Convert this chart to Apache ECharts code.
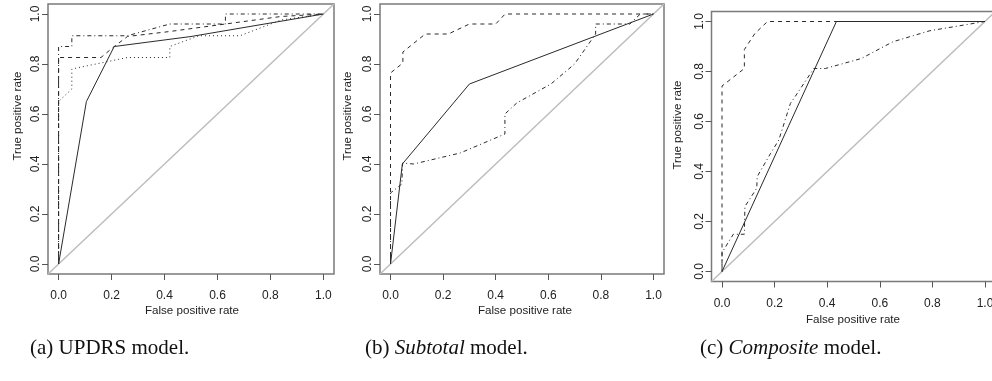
<!DOCTYPE html>
<html>
<head>
<meta charset="utf-8">
<script src="https://cdn.jsdelivr.net/npm/echarts@6/dist/echarts.min.js"></script>
<style>
  html, body { margin: 0; padding: 0; background: #ffffff; }
  #chart { width: 992px; height: 381px; }
</style>
</head>
<body>
<div id="chart"></div>
<script>
// tick values shared by every panel
const tickValues = [0, 0.2, 0.4, 0.6, 0.8, 1.0];

// chance line (abline 0,1) across the whole plot box
const chanceLine = [[-0.04, -0.04], [1.04, 1.04]];

// (a) UPDRS model
const updrsSolid = [[0, 0], [0.105, 0.65], [0.21, 0.87], [0.5, 0.91], [1, 1]];
const updrsDashed = [[0, 0], [0, 0.826], [0.16, 0.826], [0.21, 0.87], [0.26, 0.91], [0.42, 0.93], [0.63, 0.96], [0.84, 0.99], [1, 1]];
const updrsDotted = [[0, 0], [0, 0.65], [0.05, 0.70], [0.05, 0.78], [0.26, 0.826], [0.42, 0.826], [0.42, 0.87], [0.53, 0.913], [0.685, 0.913], [0.84, 0.976], [1, 1]];
const updrsDotDash = [[0, 0], [0, 0.87], [0.05, 0.87], [0.05, 0.913], [0.26, 0.913], [0.42, 0.96], [0.63, 0.96], [0.63, 1], [1, 1]];

// (b) Subtotal model
const subtotalSolid = [[0, 0], [0.045, 0.40], [0.30, 0.72], [1, 1]];
const subtotalDashed = [[0, 0], [0, 0.764], [0.047, 0.804], [0.047, 0.848], [0.132, 0.92], [0.22, 0.92], [0.30, 0.96], [0.40, 0.96], [0.436, 1], [1, 1]];
const subtotalDotDash = [[0, 0], [0, 0.284], [0.043, 0.32], [0.046, 0.404], [0.088, 0.40], [0.265, 0.444], [0.435, 0.52], [0.435, 0.60], [0.48, 0.644], [0.61, 0.72], [0.70, 0.80], [0.78, 0.92], [0.78, 0.96], [0.91, 0.96], [0.95, 1], [1, 1]];

// (c) Composite model
const compositeSolid = [[0, 0], [0.435, 1], [1, 1]];
const compositeDashed = [[0, 0], [0, 0.742], [0.085, 0.812], [0.085, 0.888], [0.125, 0.952], [0.173, 1], [1, 1]];
const compositeDotDash = [[0, 0], [0, 0.076], [0.043, 0.149], [0.085, 0.149], [0.087, 0.26], [0.132, 0.333], [0.134, 0.38], [0.185, 0.473], [0.216, 0.526], [0.26, 0.672], [0.286, 0.712], [0.349, 0.812], [0.393, 0.812], [0.53, 0.852], [0.65, 0.919], [0.79, 0.963], [1, 1]];

const DASHED = [4, 4];
const DOTTED = [1, 3];
const DOTDASH = [1, 3, 4, 3];

const panels = [
  { left: 48, top: 4, width: 286, height: 270, curves: [
    [updrsSolid, 'solid'], [updrsDashed, DASHED], [updrsDotted, DOTTED], [updrsDotDash, DOTDASH]] },
  { left: 380, top: 4, width: 284, height: 270, curves: [
    [subtotalSolid, 'solid'], [subtotalDashed, DASHED], [subtotalDotDash, DOTDASH]] },
  { left: 711.5, top: 11.5, width: 284, height: 270, curves: [
    [compositeSolid, 'solid'], [compositeDashed, DASHED], [compositeDotDash, DOTDASH]] },
];

const tickFont = { color: '#222', fontSize: 12, fontFamily: 'Liberation Sans, Arial, sans-serif' };

const chart = echarts.init(document.getElementById('chart'), null, { renderer: 'canvas' });

const grid = panels.map((p) => ({
  left: p.left, top: p.top, width: p.width, height: p.height,
  show: true, borderColor: '#7a7a7a', borderWidth: 1.5, backgroundColor: 'transparent',
  containLabel: false, outerBoundsMode: 'none',
}));

const axisCommon = {
  type: 'value', min: -0.04, max: 1.04,
  axisLine: { show: false, onZero: false },
  splitLine: { show: false },
  axisTick: { show: true, inside: false, length: 6, customValues: tickValues, lineStyle: { color: '#555', width: 1 } },
};

const xAxis = panels.map((p, i) => ({
  ...axisCommon, gridIndex: i, position: 'bottom',
  axisLabel: { ...tickFont, margin: 16, customValues: tickValues, formatter: (v) => v.toFixed(1) },
}));
const yAxis = panels.map((p, i) => ({
  ...axisCommon, gridIndex: i, position: 'left',
  axisLabel: { ...tickFont, margin: 6, rotate: 90, customValues: tickValues, formatter: (v) => v.toFixed(1) },
}));

const series = [];
panels.forEach((p, i) => {
  series.push({
    type: 'line', xAxisIndex: i, yAxisIndex: i, data: chanceLine,
    showSymbol: false, silent: true, animation: false,
    lineStyle: { color: '#bdbdbd', width: 1.5 },
  });
  p.curves.forEach(([data, dash]) => {
    series.push({
      type: 'line', xAxisIndex: i, yAxisIndex: i, data,
      showSymbol: false, silent: true, animation: false,
      lineStyle: { color: '#2a2a2a', width: 1, type: dash },
    });
  });
});

const axisTitleFont = { fill: '#222', fontSize: 11.6, fontFamily: 'Liberation Sans, Arial, sans-serif' };
const graphic = [
  { type: 'text', x: 192, y: 311, style: { ...axisTitleFont, text: 'False positive rate', align: 'center', verticalAlign: 'middle' } },
  { type: 'text', x: 525, y: 311, style: { ...axisTitleFont, text: 'False positive rate', align: 'center', verticalAlign: 'middle' } },
  { type: 'text', x: 853, y: 320, style: { ...axisTitleFont, text: 'False positive rate', align: 'center', verticalAlign: 'middle' } },
  { type: 'text', x: 18, y: 116, rotation: Math.PI / 2, style: { ...axisTitleFont, text: 'True positive rate', align: 'center', verticalAlign: 'middle' } },
  { type: 'text', x: 348, y: 116, rotation: Math.PI / 2, style: { ...axisTitleFont, text: 'True positive rate', align: 'center', verticalAlign: 'middle' } },
  { type: 'text', x: 678, y: 125, rotation: Math.PI / 2, style: { ...axisTitleFont, text: 'True positive rate', align: 'center', verticalAlign: 'middle' } },
];

const captionFont = { color: '#111', fontSize: 21, fontWeight: 'normal', fontFamily: 'Liberation Serif, Times New Roman, serif' };
const title = [
  { left: 25, top: 333, text: '(a) UPDRS model.', textStyle: { ...captionFont } },
  { left: 360, top: 333, text: '{n|(b) }{i|Subtotal}{n| model.}',
    textStyle: { ...captionFont, rich: { n: { ...captionFont }, i: { ...captionFont, fontStyle: 'italic' } } } },
  { left: 695, top: 333, text: '{n|(c) }{i|Composite}{n| model.}',
    textStyle: { ...captionFont, rich: { n: { ...captionFont }, i: { ...captionFont, fontStyle: 'italic' } } } },
];

chart.setOption({
  animation: false,
  backgroundColor: '#ffffff',
  title,
  grid,
  xAxis,
  yAxis,
  series,
  graphic,
});
</script>
</body>
</html>
